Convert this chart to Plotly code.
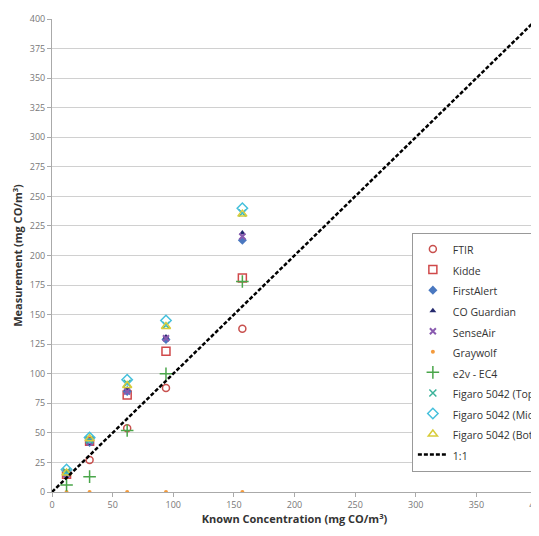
import plotly.graph_objects as go

known = [12, 31, 62, 94, 157]

ftir = [15, 27, 54, 88, 138]
kidde = [15, 43, 82, 119, 181]
firstalert = [15, 42, 85, 129, 213]
co_guardian = [16, 41, 87, 131, 219]
senseair = [15, 42, 85, 130, 216]
graywolf = [0, 0, 0, 0, 0]
e2v = [6, 13, 52, 100, 178]
figaro_top = [17, 44, 92, 141, 236]
figaro_mid = [19, 46, 95, 145, 240]
figaro_bot = [16, 45, 90, 140, 235]

line_x = [0, 400]
line_y = [0, 400]


def lbl(s):
    return "<span style='font-size:10.5px'>" + s + "</span>"


series = [
    ("FTIR", ftir, dict(symbol="circle-open", color="#c8504e", size=7, line=dict(width=1.5))),
    ("Kidde", kidde, dict(symbol="square-open", color="#d0494a", size=8, line=dict(width=1.5))),
    ("FirstAlert", firstalert, dict(symbol="diamond", color="#4a78c0", size=7)),
    ("CO Guardian", co_guardian, dict(symbol="triangle-up", color="#252a6e", size=6)),
    ("SenseAir", senseair, dict(symbol="x-thin-open", color="#8a5bb0", size=6, line=dict(width=2, color="#8a5bb0"))),
    ("Graywolf", graywolf, dict(symbol="circle", color="#f39a3c", size=4)),
    ("e2v - EC4", e2v, dict(symbol="cross-thin-open", color="#4aa64a", size=9, line=dict(width=1.5, color="#4aa64a"))),
    ("Figaro 5042 (Top)", figaro_top, dict(symbol="x-thin-open", color="#3bb39a", size=7, line=dict(width=1.5, color="#3bb39a"))),
    ("Figaro 5042 (Middle)", figaro_mid, dict(symbol="diamond-open", color="#45c0dc", size=8, line=dict(width=1.5))),
    ("Figaro 5042 (Bottom)", figaro_bot, dict(symbol="triangle-up-open", color="#d8cc3a", size=8, line=dict(width=1.5))),
]

fig = go.Figure()
for name, vals, marker in series:
    fig.add_trace(go.Scatter(x=known, y=vals, mode="markers", name=lbl(name), marker=marker))

fig.add_trace(go.Scatter(x=line_x, y=line_y, mode="lines", name=lbl("1:1"),
                         line=dict(color="black", width=2.5, dash="4px,2px")))

fig.update_layout(
    width=539, height=536,
    margin=dict(l=44, r=10, t=11, b=52, autoexpand=False),
    paper_bgcolor="white", plot_bgcolor="white",
    font=dict(family="Open Sans, DejaVu Sans, sans-serif", color="#444"),
    showlegend=True,
    legend=dict(x=0.742, y=0.548, xanchor="left", yanchor="top",
                bgcolor="white", bordercolor="#999", borderwidth=1,
                font=dict(size=13.5, color="#333", family="Open Sans, sans-serif"),
                itemwidth=30, tracegroupgap=0),
    xaxis=dict(range=[0, 400], tickvals=[0, 50, 100, 150, 200, 250, 300, 350, 400],
               showgrid=False, zeroline=False, showline=True, linecolor="#aaa", linewidth=1,
               ticks="outside", ticklen=4, tickcolor="#aaa", automargin=False,
               tickfont=dict(size=9, color="#777"),
               title=dict(text="<b>Known Concentration (mg CO/m<sup>3</sup>)</b>",
                          font=dict(size=11, color="#333"), standoff=4)),
    yaxis=dict(range=[0, 400], tickvals=list(range(0, 401, 25)),
               showgrid=True, gridcolor="#d0d0d0", gridwidth=1, zeroline=False,
               showline=True, linecolor="#aaa", linewidth=1,
               ticks="outside", ticklen=4, tickcolor="#aaa", automargin=False,
               tickfont=dict(size=9, color="#777"),
               title=dict(text="<b>Measurement (mg CO/m<sup>3</sup>)</b>",
                          font=dict(size=11, color="#333"), standoff=4)),
)

fig.write_html("out.html")
